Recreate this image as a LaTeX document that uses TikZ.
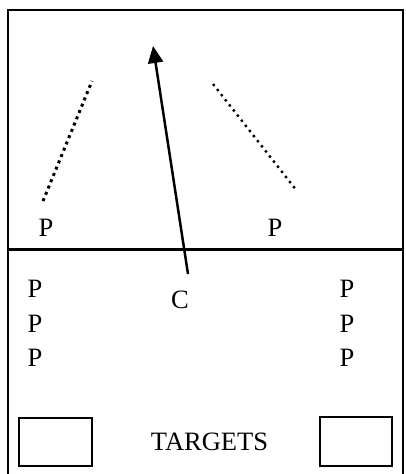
\documentclass[tikz,border=0pt]{standalone}
\usepackage{fontspec}
\setmainfont{Liberation Serif}
\usetikzlibrary{arrows.meta}
\begin{document}
\begin{tikzpicture}[x=1pt,y=-1pt,
  lbl/.style={font=\fontsize{26.5}{30}\selectfont, inner sep=0pt},
  frame/.style={draw, line width=2.4pt},
  tbox/.style={draw, line width=2.2pt},
  dotsA/.style={line width=3pt, dash pattern=on 3pt off 3.8pt},
  dotsB/.style={line width=2.4pt, dash pattern=on 2.4pt off 4.1pt},
  run/.style={line width=2.5pt, -{Triangle[width=15pt,length=17pt]}}]
\useasboundingbox (0,0) rectangle (405,474);
\draw[frame] (8,477) -- (8,10) -- (403,10) -- (403,477);
\draw[frame] (8,249.5) -- (403,249.5);
% dotted lines
\draw[dotsA] (43,201) -- (92,81);
\draw[dotsB] (213,84) -- (297,191);
% labels
\node[lbl] (p1) at (46,228) {P};
\node[lbl] (p2) at (275,228) {P};
\node[lbl] (l1) at (35,289) {P};
\node[lbl] (l2) at (35,324) {P};
\node[lbl] (l3) at (35,358) {P};
\node[lbl] (r1) at (347,289) {P};
\node[lbl] (r2) at (347,324) {P};
\node[lbl] (r3) at (347,358) {P};
\node[lbl] (c) at (180,300) {C};
\node[lbl] (targets) at (209.5,442) {TARGETS};
% target boxes
\node[tbox, minimum width=73pt, minimum height=48pt, inner sep=0pt] (t1) at (55.5,442) {};
\node[tbox, minimum width=72pt, minimum height=49pt, inner sep=0pt] (t2) at (356,441.5) {};
% arrow
\coordinate (a0) at (188,274);
\coordinate (a1) at (153,46);
\draw[run] (a0) -- (a1);
\end{tikzpicture}
\end{document}
